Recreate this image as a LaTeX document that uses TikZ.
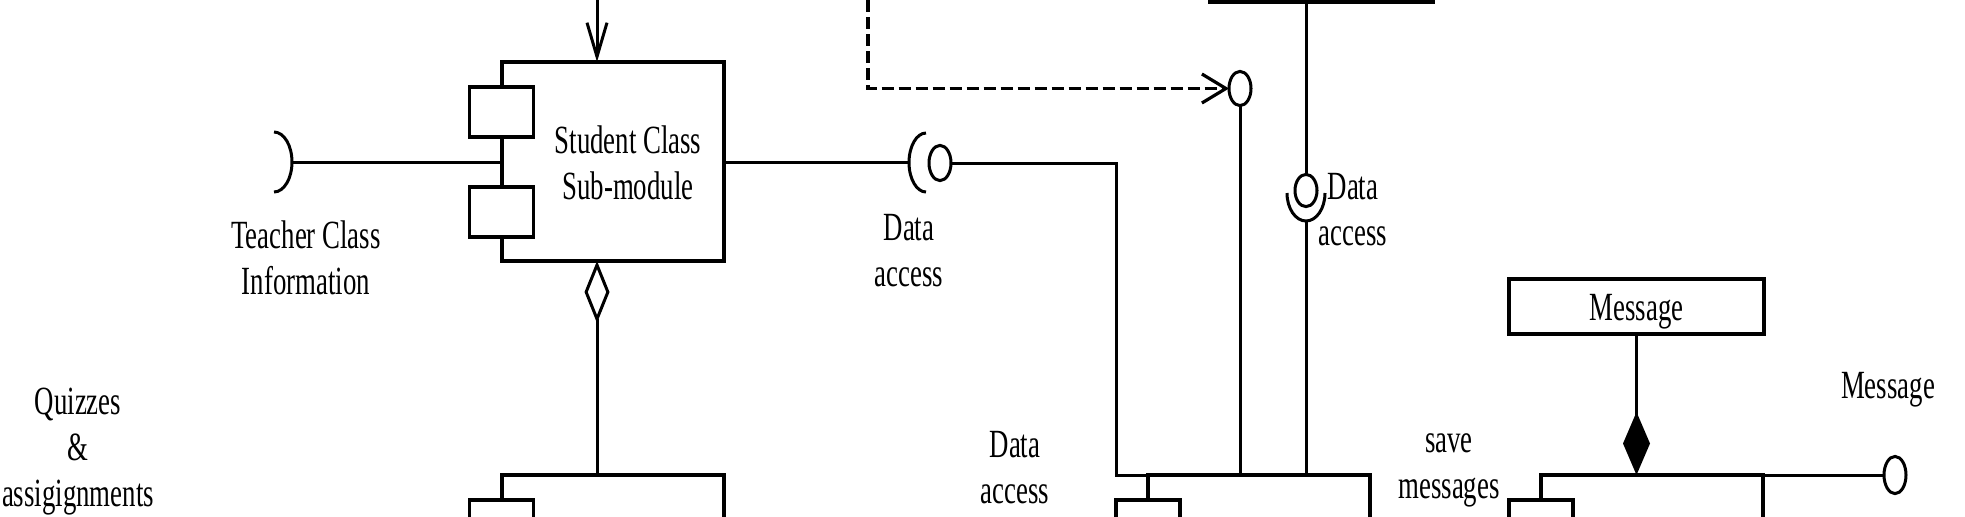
\documentclass[tikz,border=0pt]{standalone}
\usepackage{fontspec}
\setmainfont{Liberation Serif}[FakeStretch=0.67]
\usetikzlibrary{arrows.meta,shapes.geometric}
\newcommand\lblfont{\fontsize{20}{23}\selectfont}
\tikzset{
  comp/.style={draw, line width=1.9pt, inner sep=0pt, outer sep=0pt, minimum width=111pt},
  tabbox/.style={draw, fill=white, line width=1.8pt, inner sep=0pt, outer sep=0pt, minimum width=32pt, minimum height=25pt},
  conn/.style={line width=1.5pt},
  ball/.style={draw, ellipse, line width=1.5pt, inner sep=0pt, outer sep=0pt, minimum width=11pt, minimum height=17.5pt},
  lbl/.style={align=center, inner sep=0pt, font=\lblfont},
  dep/.style={line width=1.6pt, dash pattern=on 6pt off 2.5pt},
}
\begin{document}
\begin{tikzpicture}[x=0.5pt,y=-0.5pt]
\useasboundingbox (0,0) rectangle (1965,516);
\clip (0,0) rectangle (1965,516);
% component boxes
\node[comp, minimum height=99.5pt] (sc) at (613,161.5) {};
\node[tabbox] (sct1) at (501.5,112) {};
\node[tabbox] (sct2) at (501.5,212) {};
\node[lbl] (sctxt) at (628,166.8) {\strut Student Class\\\strut Sub-module};
\node[comp, minimum height=112.5pt] (blb) at (613,587.5) {};
\node[tabbox] (blbt) at (501.5,525) {};
\node[comp, minimum height=112.5pt] (mb) at (1259,587.5) {};
\node[tabbox] (mbt) at (1148,525) {};
\node[comp, minimum height=112.5pt] (rb) at (1652,587.5) {};
\node[tabbox] (rbt) at (1541,525) {};
\node[comp, minimum width=111.5pt, minimum height=76pt] (trb) at (1321.5,-74) {};
\node[comp, minimum width=127.5pt, minimum height=27.5pt, font=\lblfont, text height=18pt, text depth=4.5pt] (msg) at (1636.5,306.5) {Message};
% interface balls
\node[ball, minimum height=17.6pt] (b1) at (940,163) {};
\node[ball, minimum height=17.1pt] (b2) at (1240,88.5) {};
\node[ball, minimum height=16.1pt] (b3) at (1306,190.5) {};
\node[ball, minimum height=18.6pt] (b4) at (1895,475) {};
% helper coordinates
\coordinate (topsrc) at (597,0);
\coordinate (dsrc) at (868,0);
\coordinate (tsock) at (292,162);
\coordinate (sock1) at (909,162.5);
\coordinate (sock3) at (1306,221);
\coordinate (jn) at (1116,475);
% connectors
\draw[conn, -{Straight Barb[length=17pt,width=10pt]}] (topsrc) -- (topsrc |- sc.north);
\draw[conn] (sc.west |- tsock) -- (tsock);
\draw[conn] ([shift={(-18,-30)}]tsock) arc[start angle=-90, end angle=90, x radius=18, y radius=30];
\draw[conn] (sc.east |- sock1) -- (sock1);
\draw[conn] ([shift={(17,-29.5)}]sock1) arc[start angle=-90, end angle=-270, x radius=17, y radius=29.5];
\draw[conn] (b1.east) -| (jn) -- (mb.north west);
\draw[dep, -{Straight Barb[length=12pt,width=14.5pt]}] (dsrc) |- (b2.west);
\draw[conn] (b2.south) -- (b2.south |- mb.north);
\draw[conn] (trb.south -| sock3) -- (b3.north);
\draw[conn] ([shift={(-19,-28)}]sock3) arc[start angle=180, end angle=0, x radius=19, y radius=28];
\draw[conn] (sock3) -- (sock3 |- mb.north);
\draw[conn, {Diamond[open, length=31pt, width=12.5pt]}-] (sc.south -| topsrc) -- (blb.north -| topsrc);
\draw[conn, -{Diamond[length=31.5pt, width=13.5pt]}] (msg.south) -- (msg.south |- rb.north);
\draw[conn] (rb.north east) -- (b4.west);
% labels
\node[lbl] (tci) at (306,262.3) {\strut Teacher Class\\\strut Information};
\node[lbl] (da1) at (909,254.3) {\strut Data\\\strut access};
\node[lbl] (da2) at (1353,213.3) {\strut Data\\\strut access};
\node[lbl] (da3) at (1015,471.3) {\strut Data\\\strut access};
\node[lbl] (svm) at (1449,465.8) {\strut save\\\strut messages};
\node[lbl] (qa) at (78,451) {\strut Quizzes\\\strut \&\\\strut assigignments};
\node[lbl, anchor=base] (msgl) at (1888,398) {Message};
\end{tikzpicture}
\end{document}
